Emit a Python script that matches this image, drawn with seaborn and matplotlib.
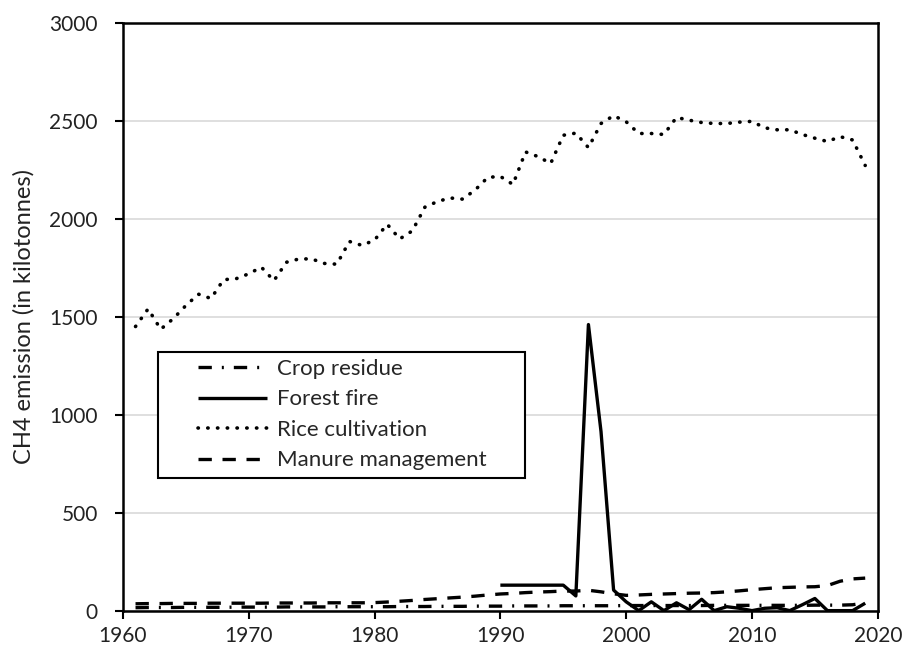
import pandas as pd
import numpy as np
import seaborn as sns
import matplotlib.pyplot as plt
from matplotlib.patches import Rectangle

# --- data ---
years = list(range(1961, 2020))

rice = [1450, 1540, 1436, 1490, 1557, 1615, 1593, 1689, 1694, 1719,
        1753, 1684, 1778, 1795, 1795, 1772, 1768, 1884, 1864, 1891,
        1972, 1897, 1938, 2059, 2088, 2106, 2100, 2147, 2211, 2216,
        2175, 2341, 2317, 2282, 2426, 2437, 2363, 2486, 2526, 2495,
        2435, 2435, 2430, 2517, 2503, 2491, 2486, 2486, 2493, 2497,
        2464, 2454, 2454, 2430, 2411, 2394, 2419, 2402, 2272]

manure = [35, 36, 36, 37, 37, 37, 38, 38, 38, 38,
          38, 39, 39, 39, 39, 40, 40, 40, 40, 41,
          44, 48, 52, 57, 61, 65, 69, 74, 80, 85,
          88, 92, 95, 97, 100, 100, 104, 96, 86, 78,
          80, 83, 85, 87, 89, 90, 92, 96, 101, 107,
          112, 117, 119, 121, 122, 128, 150, 162, 166]

crop_residue = [15, 16, 16, 16, 17, 17, 17, 17, 18, 18,
                18, 18, 19, 19, 19, 19, 20, 20, 20, 20,
                20, 21, 21, 21, 22, 22, 22, 23, 23, 23,
                24, 24, 24, 24, 25, 25, 25, 25, 25, 26,
                26, 26, 26, 26, 26, 26, 27, 27, 27, 27,
                27, 27, 27, 27, 28, 28, 28, 30, 40]

fire_years = list(range(1990, 2020))
forest_fire = [130, 130, 130, 130, 130, 130, 75, 1460, 914, 105,
               45, 0, 45, 0, 40, 5, 58, 0, 20, 12,
               0, 12, 15, 0, 30, 62, 0, 0, 0, 38]

series = ['Crop residue', 'Forest fire', 'Rice cultivation', 'Manure management']

df = pd.concat([
    pd.DataFrame({'Year': years, 'Value': crop_residue, 'Source': 'Crop residue'}),
    pd.DataFrame({'Year': fire_years, 'Value': forest_fire, 'Source': 'Forest fire'}),
    pd.DataFrame({'Year': years, 'Value': rice, 'Source': 'Rice cultivation'}),
    pd.DataFrame({'Year': years, 'Value': manure, 'Source': 'Manure management'}),
])

# --- style ---
sns.set_theme(style="white")
plt.rcParams['font.family'] = ['Lato', 'DejaVu Sans']

styles = {
    'Crop residue': dict(dashes=(4, 3, 0.6, 3), lw=2.4, cap='butt'),
    'Forest fire': dict(dashes=None, lw=2.4, cap='butt'),
    'Rice cultivation': dict(dashes=(0.1, 2.6), lw=2.6, cap='round'),
    'Manure management': dict(dashes=(4, 3.2), lw=2.4, cap='butt'),
}

fig, ax = plt.subplots(figsize=(9.04, 6.51), dpi=100)
fig.subplots_adjust(left=0.136, right=0.971, top=0.965, bottom=0.062)

for name in series:
    st = styles[name]
    sub = df[df['Source'] == name]
    sns.lineplot(data=sub, x='Year', y='Value', color='black', lw=st['lw'],
                 label=name, ax=ax)
    line = ax.lines[-1]
    if st['dashes'] is not None:
        line.set_dashes(st['dashes'])
    line.set_dash_capstyle(st['cap'])
    line.set_solid_capstyle('butt')

ax.set_xlim(1960, 2020)
ax.set_ylim(0, 3000)
ax.set_xticks(range(1960, 2021, 10))
ax.set_yticks(range(0, 3001, 500))
ax.yaxis.grid(True, color='#d9d9d9', lw=1.2)
ax.set_axisbelow(True)
ax.tick_params(axis='both', direction='out', length=6, width=1.5,
               color='black', labelsize=15, labelcolor='#222222',
               bottom=True, left=True)
ax.tick_params(axis='y', pad=12)
ax.tick_params(axis='x', pad=5)
for s in ax.spines.values():
    s.set_color('black')
    s.set_linewidth(1.8)

ax.set_xlabel('')
ax.set_ylabel('CH4 emission (in kilotonnes)', fontsize=17, color='#222222',
              labelpad=11)

# legend without its own frame, box drawn separately
leg = ax.legend(loc='upper left', bbox_to_anchor=(0.0993, 0.428), fontsize=16,
                frameon=False, handlelength=3.1, handletextpad=0.45,
                borderpad=0, labelspacing=0.47, borderaxespad=0)
for h, name in zip(leg.get_lines(), series):
    st = styles[name]
    if st['dashes'] is not None:
        h.set_dashes(st['dashes'])
    h.set_dash_capstyle(st['cap'])
ax.add_patch(Rectangle((0.0464, 0.2255), 0.486, 0.2145, transform=ax.transAxes,
                       fill=True, facecolor='white', edgecolor='black', lw=1.5,
                       zorder=4))
leg.set_zorder(5)

plt.savefig('out.png', dpi=100)
